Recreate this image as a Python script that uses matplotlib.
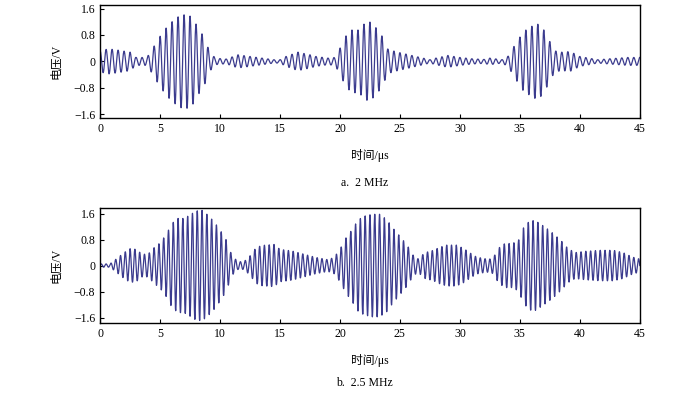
import numpy as np
import matplotlib.pyplot as plt

plt.rcParams['font.family'] = ['Liberation Serif', 'Noto Sans CJK SC']

# carrier frequencies (MHz) read from the captions
freq_a = 2.0
freq_b = 2.5

# envelope (peak amplitude, V) at these times (us)
env_t_a = [0, 0.7, 1.5, 2.5, 3.0, 3.9, 4.4, 4.8, 5.2, 5.7, 6.2, 6.7, 7.3, 7.7, 8.2,
           8.7, 9.1, 9.6, 10.5, 11.5, 12.5, 13.5, 14.5, 15.0, 15.5, 16.5, 17.5, 18.0,
           19.0, 19.6, 20.0, 20.5, 21.0, 21.6, 22.1, 22.5, 23.0, 23.5, 24.0, 24.7,
           26.0, 27.5, 28.0, 29.0, 30.0, 31.0, 32.0, 32.5, 33.5, 34.0, 34.7, 35.3,
           35.8, 36.4, 36.9, 37.4, 37.9, 38.5, 39.2, 40.0, 41.5, 42.5, 44.0, 45.0]
env_a_a = [0.32, 0.38, 0.34, 0.28, 0.12, 0.12, 0.4, 0.65, 0.87, 1.1, 1.27, 1.4, 1.42, 1.32, 1.0,
           0.72, 0.32, 0.1, 0.07, 0.2, 0.15, 0.1, 0.05, 0.05, 0.15, 0.28, 0.2, 0.15,
           0.1, 0.12, 0.4, 0.77, 0.95, 0.95, 1.17, 1.19, 1.02, 0.77, 0.37, 0.29,
           0.18, 0.05, 0.1, 0.18, 0.12, 0.08, 0.06, 0.1, 0.05, 0.15, 0.57, 0.9,
           1.02, 1.15, 1.02, 0.67, 0.32, 0.28, 0.3, 0.15, 0.05, 0.08, 0.12, 0.12]

env_t_b = [0, 0.8, 1.0, 1.5, 2.0, 2.5, 3.0, 3.5, 4.0, 4.5, 5.0, 5.5, 6.0, 6.5, 7.0, 7.5,
           8.0, 8.5, 9.0, 9.5, 10.0, 10.5, 11.0, 11.5, 12.0, 12.5, 13.0, 13.5, 14.5,
           15.0, 16.0, 17.0, 18.0, 19.0, 19.5, 20.0, 20.5, 21.0, 21.5, 22.0, 22.7,
           23.3, 23.9, 24.4, 25.0, 25.6, 26.1, 26.5, 27.1, 27.8, 28.3, 28.9, 29.7,
           30.3, 30.8, 31.4, 32.1, 32.6, 32.9, 33.2, 33.75, 34.4, 34.9, 35.3, 35.8,
           36.25, 36.8, 37.4, 37.9, 38.5, 39.0, 39.6, 40.5, 41.7, 42.8, 43.6, 44.4, 45.0]
env_a_b = [0.05, 0.05, 0.1, 0.25, 0.4, 0.52, 0.5, 0.35, 0.35, 0.55, 0.7, 0.95, 1.3, 1.45, 1.45, 1.56,
           1.68, 1.7, 1.55, 1.35, 1.1, 0.8, 0.3, 0.12, 0.12, 0.3, 0.55, 0.62, 0.65,
           0.5, 0.45, 0.35, 0.25, 0.18, 0.25, 0.5, 0.85, 1.1, 1.4, 1.52, 1.58,
           1.58, 1.42, 1.16, 0.9, 0.63, 0.32, 0.21, 0.4, 0.47, 0.56, 0.63, 0.63,
           0.53, 0.4, 0.26, 0.21, 0.2, 0.32, 0.53, 0.68, 0.68, 0.79, 1.16, 1.37,
           1.39, 1.26, 1.1, 0.95, 0.74, 0.53, 0.4, 0.44, 0.47, 0.47, 0.4, 0.26, 0.2]

yticks = [-1.6, -0.8, 0, 0.8, 1.6]
ytick_labels = ['\u22121.6', '\u22120.8', '0', '0.8', '1.6']
xticks = [0, 5, 10, 15, 20, 25, 30, 35, 40, 45]
line_color = '#3b3b8e'

fig = plt.figure(figsize=(7, 3.93), dpi=100)
ax1 = fig.add_axes([0.143, 0.700, 0.771, 0.2875])
ax2 = fig.add_axes([0.143, 0.178, 0.771, 0.2926])

t = np.linspace(0, 45, 9000)
panels = [(ax1, freq_a, env_t_a, env_a_a, 1.71, 'a.  2 MHz', -0.58, 0.0),
          (ax2, freq_b, env_t_b, env_a_b, 1.77, 'b.  2.5 MHz', -0.52, -np.pi / 2)]

for ax, f, et, ea, lim, cap, cap_y, ph in panels:
    y = np.interp(t, et, ea) * np.cos(2 * np.pi * f * t + ph)
    ax.plot(t, y, color=line_color, lw=0.9)
    ax.set_xlim(0, 45)
    ax.set_ylim(-lim, lim)
    ax.set_xticks(xticks)
    ax.set_yticks(yticks)
    ax.set_yticklabels(ytick_labels)
    ax.tick_params(direction='in', length=3, labelsize=8.5, top=False, right=False)
    for s in ax.spines.values():
        s.set_linewidth(1.0)
    ax.set_ylabel('电压/V', fontsize=8.5, labelpad=8)
    ax.set_xlabel('时间/μs', fontsize=8.5, labelpad=10)
    ax.text(0.49, cap_y, cap, transform=ax.transAxes, ha='center', va='center', fontsize=8.5)

fig.savefig('out.png', dpi=100)
